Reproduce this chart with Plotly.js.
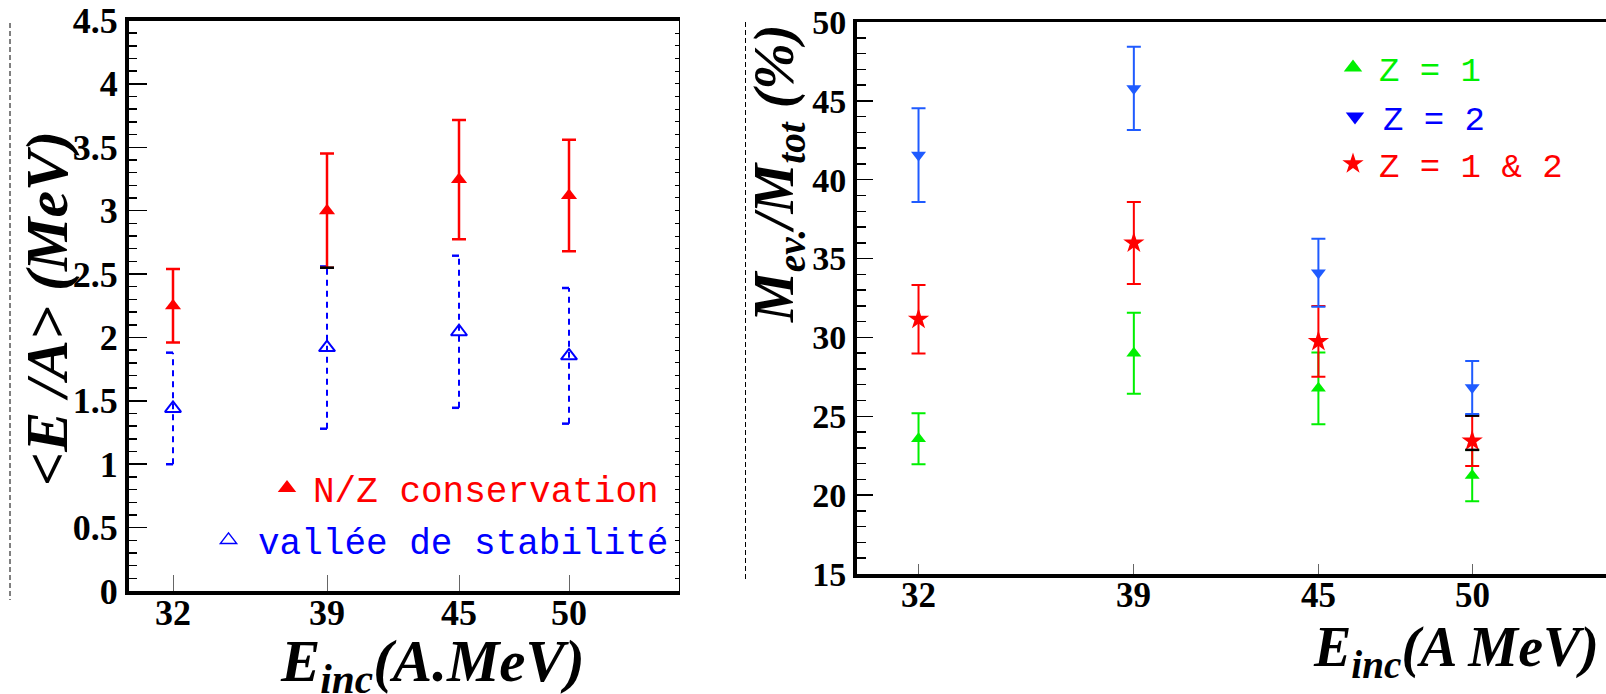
<!DOCTYPE html>
<html><head><meta charset="utf-8">
<script src="https://cdn.plot.ly/plotly-3.0.1.min.js"></script>
<style>html,body{margin:0;padding:0;overflow:hidden;background:#fff}#chart{width:1640px;height:694px}</style>
</head><body><div id="chart"></div>
<script>
// ---------- data ----------
const energies = [32, 39, 45, 50];
const energyTicks = ['32', '39', '45', '50'];
// left panel: <E/A> (MeV)
const nzConservation = [2.25, 3.00, 3.245, 3.12];
const nzConservationErr = [0.29, 0.45, 0.47, 0.44];
const valleyStability = [1.44, 1.92, 2.045, 1.855];
const valleyStabilityErr = [0.44, 0.64, 0.60, 0.535];
// right panel: M_ev./M_tot (%)
const z1 = [23.58, 29.0, 26.77, 21.24];
const z1Err = [1.62, 2.57, 2.28, 1.63];
const z2 = [41.56, 45.79, 34.1, 26.82];
const z2Err = [2.97, 2.64, 2.15, 1.68];
const z12 = [31.15, 35.99, 29.75, 23.44];
const z12Err = [2.17, 2.6, 2.24, 1.6];

// ---------- layout geometry ----------
const W = 1640, H = 694;
const L = {x0: 129, x1: 679, yTop: 20.5, yBot: 591};
const R = {x0: 857, x1: 1626, yTop: 22, yBot: 574};
const xRange = [30, 55];
const leftPxPerUnit = (L.x1 - L.x0) / (xRange[1] - xRange[0]);
const rightPxPerUnit = (R.x1 - R.x0) / (xRange[1] - xRange[0]);
const capPx = 7;

const RED = '#ff0000', BLUE = '#0000ff', BLUE2 = '#1f5bff', GREEN = '#00f000';
const tickFont = s => ({family: 'Liberation Serif', size: s, weight: 'bold', color: '#000'});
const monoFont = (c, s) => ({family: 'Liberation Mono', size: s, color: c});

// dashed error bars for the "vallée" series, built from the data arrays
const vLineX = [], vLineY = [], vCapX = [], vCapY = [];
const vHalf = capPx / leftPxPerUnit;
energies.forEach((e, i) => {
  const lo = valleyStability[i] - valleyStabilityErr[i];
  const hi = valleyStability[i] + valleyStabilityErr[i];
  vLineX.push(e, e, null); vLineY.push(lo, hi, null);
  vCapX.push(e - vHalf, e, null, e - vHalf, e, null);
  vCapY.push(hi, hi, null, lo, lo, null);
});

// black caps seen in the reference
const lHalf = capPx / leftPxPerUnit, rHalf = capPx / rightPxPerUnit;
const blackLeftX = [energies[1] - lHalf, energies[1] + lHalf];
const yb = nzConservation[1] - nzConservationErr[1];
const blackLeftY = [yb, yb];
const blackRightX = [], blackRightY = [];
[[z1, z1Err], [z12, z12Err]].forEach(([v, e]) => {
  const yy = v[3] + e[3];
  blackRightX.push(energies[3] - rHalf, energies[3] + rHalf, null);
  blackRightY.push(yy, yy, null);
});

const skip = {showlegend: false, hoverinfo: 'skip'};
const legendOnly = (name, legend, xa, ya, marker) =>
  ({x: [null], y: [null], xaxis: xa, yaxis: ya, mode: 'markers', name, legend, marker, hoverinfo: 'skip'});

const traces = [
  // left panel
  Object.assign({x: vLineX, y: vLineY, xaxis: 'x', yaxis: 'y', mode: 'lines', line: {color: BLUE, width: 2, dash: '6px,5px'}}, skip),
  Object.assign({x: vCapX, y: vCapY, xaxis: 'x', yaxis: 'y', mode: 'lines', line: {color: BLUE, width: 2.5}}, skip),
  Object.assign({x: energies, y: valleyStability, xaxis: 'x', yaxis: 'y', mode: 'markers',
   marker: {symbol: 'triangle-up-open', size: 14, color: BLUE, line: {width: 2, color: BLUE}}}, skip),
  Object.assign({x: energies, y: nzConservation, xaxis: 'x', yaxis: 'y', mode: 'markers',
   marker: {symbol: 'triangle-up', size: 14, color: RED},
   error_y: {type: 'data', array: nzConservationErr, color: RED, thickness: 2.5, width: capPx}}, skip),
  Object.assign({x: blackLeftX, y: blackLeftY, xaxis: 'x', yaxis: 'y', mode: 'lines', line: {color: '#000', width: 2.5}}, skip),
  Object.assign({x: [null], y: [null], xaxis: 'x', yaxis: 'y2', mode: 'markers'}, skip),
  legendOnly('N/Z conservation', 'legend', 'x', 'y', {symbol: 'triangle-up', size: 16, color: RED}),
  legendOnly('vallée de stabilité', 'legend2', 'x', 'y', {symbol: 'triangle-up-open', size: 14, color: BLUE, line: {width: 1.5, color: BLUE}}),
  // right panel
  Object.assign({x: energies, y: z1, xaxis: 'x2', yaxis: 'y3', mode: 'markers',
   marker: {symbol: 'triangle-up', size: 13, color: GREEN},
   error_y: {type: 'data', array: z1Err, color: GREEN, thickness: 2, width: capPx}}, skip),
  Object.assign({x: energies, y: z12, xaxis: 'x2', yaxis: 'y3', mode: 'markers',
   marker: {symbol: 'star', size: 16, color: RED},
   error_y: {type: 'data', array: z12Err, color: RED, thickness: 2, width: capPx}}, skip),
  Object.assign({x: blackRightX, y: blackRightY, xaxis: 'x2', yaxis: 'y3', mode: 'lines', line: {color: '#000', width: 2.5}}, skip),
  Object.assign({x: energies, y: z2, xaxis: 'x2', yaxis: 'y3', mode: 'markers',
   marker: {symbol: 'triangle-down', size: 13, color: BLUE2},
   error_y: {type: 'data', array: z2Err, color: BLUE2, thickness: 2, width: capPx}}, skip),
  legendOnly('Z = 1', 'legend3', 'x2', 'y3', {symbol: 'triangle-up', size: 16, color: GREEN}),
  legendOnly('Z = 2', 'legend4', 'x2', 'y3', {symbol: 'triangle-down', size: 16, color: BLUE}),
  legendOnly('Z = 1 & 2', 'legend5', 'x2', 'y3', {symbol: 'star', size: 16, color: RED})
];

function leg(xpx, ypx, color, itemwidth, size) {
  return {x: xpx / W, y: 1 - ypx / H, xanchor: 'left', yanchor: 'middle', bgcolor: 'rgba(0,0,0,0)',
          borderwidth: 0, font: monoFont(color, size), itemwidth: itemwidth};
}

const commonAxis = {showgrid: false, zeroline: false, showline: true, linecolor: '#000', ticks: 'inside', tickcolor: '#000'};

// x tick labels placed under each energy (positioned via the x axis)
const tickAnn = (xref, yPx, size) => energies.map((e, i) => ({
  text: energyTicks[i], x: e, xref: xref, y: 1 - yPx / H, yref: 'paper', xanchor: 'center', yanchor: 'middle',
  showarrow: false, font: tickFont(size)}));

const titleFont = s => ({family: 'Liberation Serif', size: s, weight: 'bold', style: 'italic', color: '#000'});

const layout = {
  width: W, height: H, margin: {l: 0, r: 0, t: 0, b: 0},
  paper_bgcolor: '#fff', plot_bgcolor: '#fff', showlegend: true,
  xaxis: Object.assign({}, commonAxis, {domain: [L.x0 / W, L.x1 / W], range: xRange, anchor: 'y',
    tickvals: energies, ticktext: energyTicks, ticklen: 16, tickwidth: 1, tickcolor: '#666',
    linewidth: 4, mirror: true, showticklabels: false}),
  yaxis: Object.assign({}, commonAxis, {domain: [1 - L.yBot / H, 1 - L.yTop / H], range: [0, 4.5], anchor: 'x',
    tick0: 0, dtick: 0.5, ticklen: 18, tickwidth: 1.5, linewidth: 4,
    minor: {dtick: 0.1, ticks: 'inside', ticklen: 8, tickwidth: 1.5, tickcolor: '#000', showgrid: false},
    tickfont: tickFont(36)}),
  yaxis2: Object.assign({}, commonAxis, {overlaying: 'y', side: 'right', anchor: 'x', range: [0, 4.5],
    dtick: 0.1, ticklen: 4, tickwidth: 1, linewidth: 1, showticklabels: false}),
  xaxis2: Object.assign({}, commonAxis, {domain: [R.x0 / W, R.x1 / W], range: xRange, anchor: 'y3',
    tickvals: energies, ticktext: energyTicks, ticklen: 10, tickwidth: 1, tickcolor: '#666',
    linewidth: 3.5, mirror: true, showticklabels: false}),
  yaxis3: Object.assign({}, commonAxis, {domain: [1 - R.yBot / H, 1 - R.yTop / H], range: [15, 50], anchor: 'x2',
    tick0: 15, dtick: 5, ticklen: 16, tickwidth: 1.5, linewidth: 4,
    minor: {dtick: 1, ticks: 'inside', ticklen: 9, tickwidth: 1.5, tickcolor: '#000', showgrid: false},
    tickfont: tickFont(34)}),
  legend: leg(261, 488, RED, 42, 36),
  legend2: leg(199, 540, BLUE, 49, 36),
  legend3: leg(1327, 68, GREEN, 42, 34),
  legend4: leg(1327, 117, BLUE, 46, 34),
  legend5: leg(1327, 164, RED, 42, 34),
  shapes: [
    {type: 'line', xref: 'paper', yref: 'paper', x0: 10 / W, x1: 10 / W, y0: 1 - 23 / H, y1: 1 - 600 / H,
     line: {color: '#000', width: 1, dash: '5px,3px'}},
    {type: 'line', xref: 'paper', yref: 'paper', x0: 745.5 / W, x1: 745.5 / W, y0: 1 - 22 / H, y1: 1 - 582 / H,
     line: {color: '#000', width: 1, dash: '5px,3px'}}
  ],
  annotations: [
    {text: '&lt;E /A&gt; (MeV)', xref: 'paper', yref: 'paper', x: 47 / W, y: 1 - 309 / H, textangle: -90,
     xanchor: 'center', yanchor: 'middle', showarrow: false, font: titleFont(60)},
    {text: 'E<sub>inc</sub>(A.MeV)', xref: 'paper', yref: 'paper', x: 432 / W, y: 1 - 665 / H,
     xanchor: 'center', yanchor: 'middle', showarrow: false, font: titleFont(59)},
    {text: 'M<sub>ev.</sub>/M<sub>tot</sub> (%)', xref: 'paper', yref: 'paper', x: 778 / W, y: 1 - 174 / H, textangle: -90,
     xanchor: 'center', yanchor: 'middle', showarrow: false, font: titleFont(56)},
    {text: 'E<sub>inc</sub>(A MeV)', xref: 'paper', yref: 'paper', x: 1456 / W, y: 1 - 651 / H,
     xanchor: 'center', yanchor: 'middle', showarrow: false, font: titleFont(56)}
  ].concat(tickAnn('x', 612.5, 36), tickAnn('x2', 595, 35))
};

Plotly.newPlot('chart', traces, layout, {staticPlot: true, displayModeBar: false});
</script>
</body></html>
